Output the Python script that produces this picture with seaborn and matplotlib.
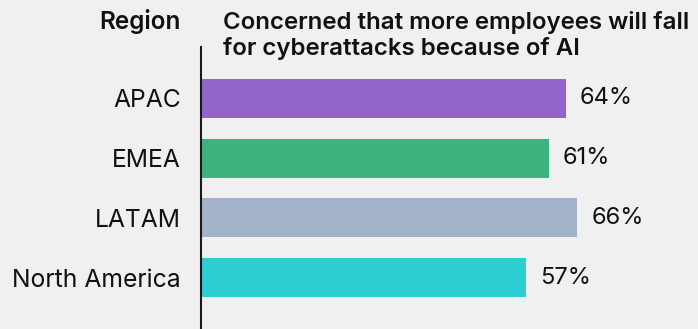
import matplotlib
matplotlib.use("Agg")
import matplotlib.pyplot as plt
import seaborn as sns
import pandas as pd

regions = ["APAC", "EMEA", "LATAM", "North America"]
values = [64, 61, 66, 57]
colors = ["#9265CB", "#3EB27E", "#A2B2C9", "#2CCDD3"]
label_header = "Region"
value_header = "Concerned that more employees will fall\nfor cyberattacks because of AI"

sns.set_theme(style="white")
plt.rcParams["font.family"] = ["Inter", "DejaVu Sans"]

df = pd.DataFrame({"region": regions, "value": values})

W, H = 698, 329
fig = plt.figure(figsize=(W / 100, H / 100), dpi=100, facecolor="#F0F0F0")
ax = fig.add_axes([201 / W, 0, 1 - 201 / W, (329 - 47) / H])
ax.set_facecolor("#F0F0F0")

sns.barplot(data=df, y="region", x="value", hue="region", palette=colors,
            order=regions, width=0.65, legend=False, ax=ax, saturation=1,
            linewidth=0)

ax.set_xlim(0, 87.2)
ax.set_ylim(3.86, -0.86)
for s in ["top", "right", "bottom"]:
    ax.spines[s].set_visible(False)
ax.spines["left"].set_color("#1a1a1a")
ax.spines["left"].set_linewidth(1.5)
ax.set_xticks([])
ax.set_xlabel("")
ax.set_ylabel("")
ax.tick_params(axis="y", length=0, pad=14.4, labelsize=17.8, labelcolor="#111111")

for i, v in enumerate(values):
    ax.text(v + 2.45, i, f"{v}%", va="center", ha="left", fontsize=17, color="#111111")

fig.text(181 / W, 1 - 21 / H, label_header, ha="right", va="center",
         fontsize=17.5, fontweight="semibold", color="#111111")
fig.text(223 / W, 1 - 35.5 / H, value_header, ha="left", va="center",
         fontsize=17.3, fontweight="semibold", color="#111111", linespacing=1.2)

fig.savefig("out.png", dpi=100, facecolor=fig.get_facecolor())
